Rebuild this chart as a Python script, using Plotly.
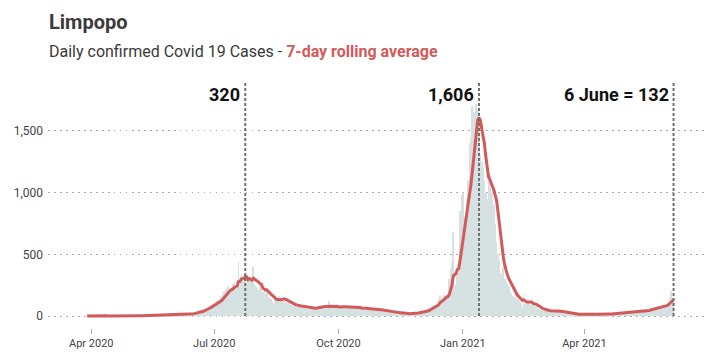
import pandas as pd
import plotly.graph_objects as go

# Daily confirmed cases, Limpopo, 29 Mar 2020 – 6 Jun 2021
mar_2020 = [0, 1, 2]
apr_2020 = [1, 0, 2, 1, 0, 3, 1, 2, 0, 1, 0, 2, 1, 0, 1, 3, 0, 1, 2, 0, 1, 0, 2, 1, 3, 0, 1, 2, 1, 0]
may_2020 = [2, 3, 1, 4, 2, 3, 5, 2, 4, 3, 2, 5, 3, 4, 6, 9, 12, 8, 14, 10, 11, 9, 13, 10, 8, 12, 15, 11, 9, 13, 10]
jun_2020 = [12, 16, 10, 14, 18, 13, 11, 15, 19, 14, 17, 21, 16, 22, 25, 20, 28, 30, 34, 38, 42, 45, 52, 60, 58, 72, 80, 90, 85, 100]
jul_2020 = [95, 110, 125, 118, 140, 160, 170, 200, 185, 220, 240, 205, 230, 197, 260, 280, 240, 290, 440, 250,
            330, 300, 290, 340, 270, 280, 310, 290, 260, 400, 250]
aug_2020 = [240, 230, 210, 250, 220, 190, 200, 180, 227, 150, 160, 140, 120, 101, 130, 150, 125, 160, 140, 135,
            145, 120, 110, 110, 100, 95, 92, 88, 85, 95, 80]
sep_2020 = [75, 82, 70, 68, 85, 78, 72, 60, 55, 68, 62, 58, 65, 70, 72, 80, 75, 70, 85, 78, 74, 80, 60, 120, 60,
            78, 70, 82, 76, 72]
oct_2020 = [80, 74, 68, 90, 72, 76, 70, 65, 78, 70, 82, 68, 60, 74, 66, 70, 62, 58, 72, 64, 60, 55, 50, 58, 48,
            62, 52, 56, 50, 54, 48]
nov_2020 = [45, 52, 40, 38, 36, 30, 34, 32, 28, 35, 30, 26, 24, 28, 22, 25, 20, 18, 22, 17, 21, 16, 18, 20, 22,
            24, 28, 30, 26, 32]
dec_2020 = [30, 35, 38, 45, 50, 55, 60, 60, 80, 90, 85, 90, 85, 140, 165, 130, 150, 170, 150, 170,
            160, 300, 380, 430, 680, 250, 220, 380, 350, 850, 980]
jan_2021 = [1000, 800, 750, 950, 1100, 1400, 1450, 1700, 1650, 1500, 1720, 1680, 1542, 1300, 1250, 1200, 1100,
            1000, 950, 1100, 1150, 1000, 1050, 900, 750, 600, 500, 450, 350, 300, 400]
feb_2021 = [300, 280, 260, 240, 200, 180, 160, 150, 170, 140, 130, 120, 110, 70, 180, 95, 105, 110, 120, 95,
            90, 100, 85, 75, 70, 60, 55, 50]
mar_2021 = [48, 42, 45, 43, 38, 44, 40, 36, 42, 45, 38, 40, 44, 39, 30, 26, 22, 25, 18, 20,
            16, 15, 18, 14, 12, 16, 13, 15, 11, 14, 12]
apr_2021 = [13, 15, 12, 14, 16, 11, 15, 13, 14, 17, 12, 16, 15, 18, 14, 16, 19, 15, 18, 20,
            17, 21, 19, 22, 20, 24, 23, 21, 25, 22]
may_2021 = [24, 28, 25, 30, 27, 32, 29, 34, 31, 36, 33, 38, 35, 40, 42, 45, 50, 48, 55, 60,
            58, 65, 70, 62, 75, 80, 72, 85, 80, 90, 85]
jun_2021 = [100, 111, 150, 200, 128, 150]

start_date = "2020-03-29"
y_ticks = [0, 500, 1000, 1500]

daily = (mar_2020 + apr_2020 + may_2020 + jun_2020 + jul_2020 + aug_2020 + sep_2020 + oct_2020 + nov_2020
         + dec_2020 + jan_2021 + feb_2021 + mar_2021 + apr_2021 + may_2021 + jun_2021)
dates = pd.date_range(start_date, periods=len(daily), freq="D")
cases = pd.Series(daily, index=dates)
rolling = cases.rolling(7, min_periods=1).mean()

peak1_date = rolling[:"2020-09-30"].idxmax()
peak2_date = rolling.idxmax()
last_date = rolling.index[-1]
markers = [
    (peak1_date, f"{round(rolling[peak1_date]):,}"),
    (peak2_date, f"{round(rolling[peak2_date]):,}"),
    (last_date, f"{last_date.day} {last_date:%B} = {round(rolling[last_date]):,}"),
]

RED = "#d35a5a"
FONT = "Roboto"
Y_RANGE = [-97, 1896]
W, H = 712, 352  # page body has an 8px margin inside the 720x360 window

fig = go.Figure()
fig.add_trace(go.Bar(x=dates, y=daily, marker=dict(color="#d6e1e1", line=dict(width=0)),
                     width=0.6 * 86400000, hoverinfo="skip"))
fig.add_trace(go.Scatter(x=dates, y=rolling, mode="lines", line=dict(color=RED, width=3)))

for d, label in markers:
    fig.add_shape(type="line", x0=d, x1=d, xref="x", y0=0, y1=Y_RANGE[1], yref="y",
                  line=dict(color="#707070", width=2, dash="3px,2px"))
    fig.add_annotation(x=d, xref="x", y=1, yref="paper", xanchor="right", yanchor="top", align="right",
                       text=f"<b>{label}</b>", showarrow=False, xshift=-3,
                       font=dict(family=FONT, size=18, color="#111111"))

title_text = (
    "<span style='font-size:20px'><b>Limpopo</b></span><br>"
    "<span style='font-size:16px'>Daily confirmed Covid 19 Cases - "
    f"<b><span style='color:{RED}'>7-day rolling average</span></b></span>"
)

fig.update_layout(
    width=W, height=H,
    margin=dict(l=40, r=14, t=74, b=32, autoexpand=False),
    plot_bgcolor="white", paper_bgcolor="white",
    showlegend=False, bargap=0.3,
    font=dict(family=FONT, color="#444444"),
    title=dict(
        text=title_text,
        font=dict(family=FONT, size=21.5, color="#3a3a3a"),
        x=41 / W, xref="container", xanchor="left",
        y=1 - 21 / H, yref="container", yanchor="top",
    ),
    xaxis=dict(range=["2020-02-29", "2021-06-30"], type="date", tick0="2020-01-01", dtick="M3",
               tickformat="%b %Y", ticks="outside", ticklen=5, tickcolor="#aaaaaa",
               showgrid=False, zeroline=False, showline=False, automargin=False,
               tickfont=dict(family=FONT, size=11, color="#444444")),
    yaxis=dict(range=Y_RANGE, tickvals=y_ticks, tickformat=",", showgrid=True, gridcolor="#aaaaaa",
               griddash="1.5px,4.5px", gridwidth=1, zeroline=False, showline=False, ticks="", automargin=False,
               ticklabelstandoff=4, tickfont=dict(family=FONT, size=12, color="#444444")),
)

fig.write_html("out.html")
